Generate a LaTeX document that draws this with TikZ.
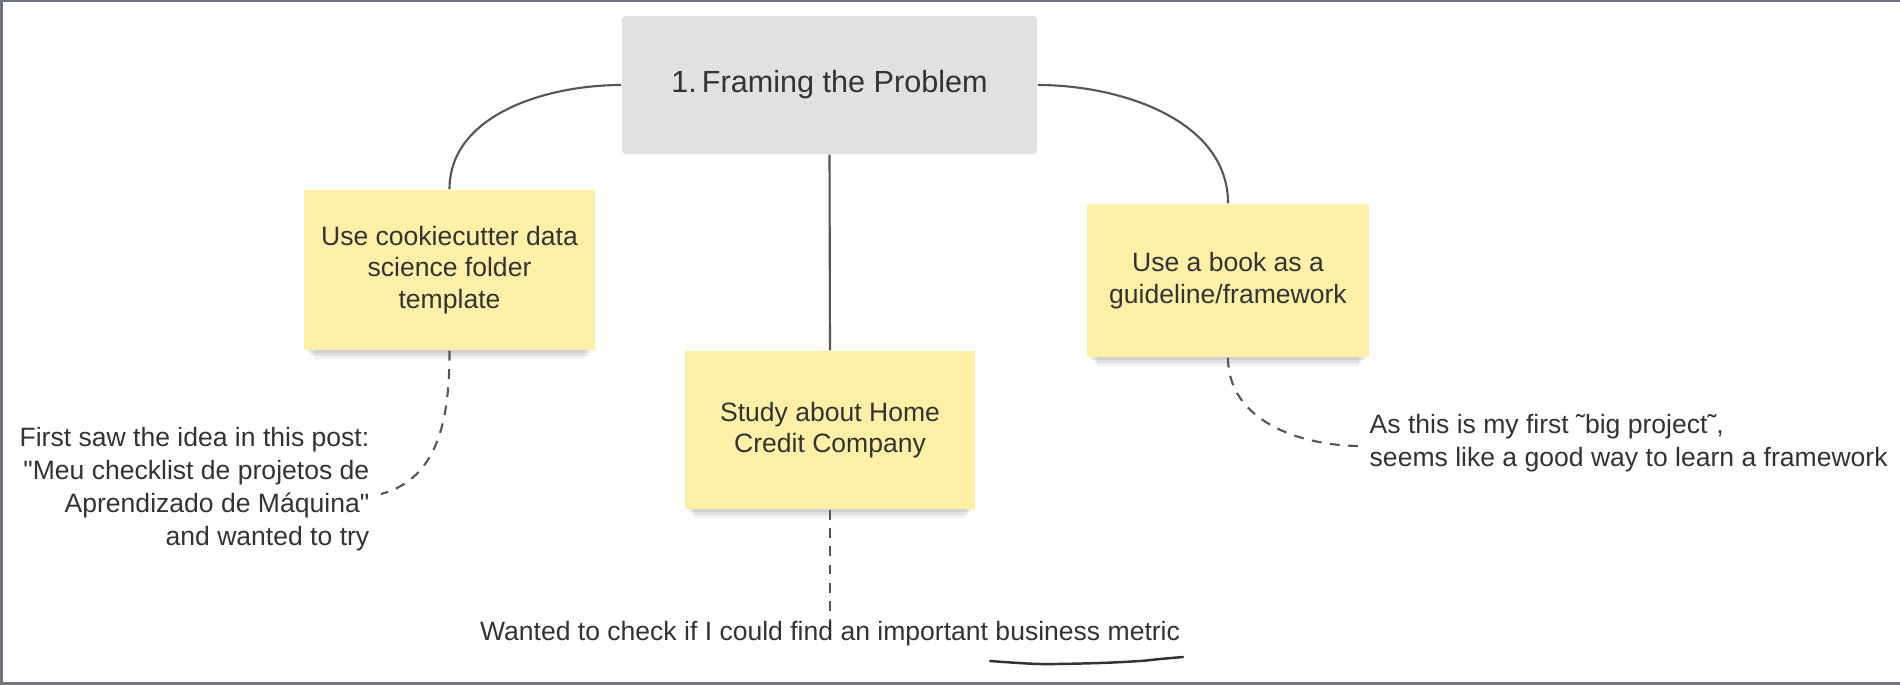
\documentclass[tikz,border=0pt]{standalone}
\usepackage{fontspec}
\setmainfont{Liberation Sans}[Ligatures=TeXOff]
\usetikzlibrary{shadows}

\definecolor{stickyfill}{HTML}{FFF0A8}
\definecolor{titlefill}{HTML}{E1E1E1}
\definecolor{inkgray}{HTML}{333333}
\definecolor{linegray}{HTML}{555555}
\definecolor{framegray}{HTML}{6F7482}

\tikzset{
    titlebox/.style={fill=titlefill, rounded corners=1.2pt, minimum width=4.15cm,
        minimum height=1.38cm, text=inkgray, font=\fontsize{8.7pt}{10.4pt}\selectfont},
    sticky/.style={fill=stickyfill, align=center, text=inkgray,
        font=\fontsize{7.55pt}{9pt}\selectfont,
        general shadow={fill=black, opacity=0.07, shadow yshift=-1.5pt, shadow scale=0.97},
        general shadow={fill=black, opacity=0.07, shadow yshift=-3pt, shadow scale=0.95},
        general shadow={fill=black, opacity=0.05, shadow yshift=-4.5pt, shadow scale=0.93}},
    note/.style={text=inkgray, font=\fontsize{7.55pt}{9.4pt}\selectfont, inner sep=0pt},
    branch/.style={draw=linegray, line width=0.6pt},
    hint/.style={draw=linegray, line width=0.6pt, dash pattern=on 2.8pt off 2.4pt}
}

\begin{document}
\begin{tikzpicture}[x=0.01cm, y=-0.01cm]

    % --- Page and frame ---
    \useasboundingbox (0,0) rectangle (1900,685);
    \fill[white] (0,0) rectangle (1900,685);
    \draw[framegray, line width=0.8pt] (1900,0.5) -- (1.2,0.5) -- (1.2,683.5) -- (1900,683.5);

    % --- Central topic ---
    \node[titlebox] (frame) at (829.5,85) {1.\,Framing the Problem};

    % --- Sticky notes ---
    % Left sticky: folder template
    \node[sticky, minimum width=2.91cm, minimum height=1.6cm] (cookie) at (449.5,270)
        {Use cookiecutter data\\science folder\\template};

    % Middle sticky: company study
    \node[sticky, minimum width=2.9cm, minimum height=1.58cm] (study) at (830,430)
        {Study about Home\\Credit Company};

    % Right sticky: book as guide
    \node[sticky, minimum width=2.82cm, minimum height=1.53cm] (book) at (1228,280.5)
        {Use a book as a\\guideline/framework};

    % --- Branches from the topic ---
    \draw[branch] (frame.west) to[out=180, in=90, looseness=0.95] (cookie.north);
    \draw[branch] (frame.south) -- (study.north);
    \draw[branch] (frame.east) to[out=0, in=90, looseness=0.95] (book.north);

    % --- Side notes ---
    \node[note, anchor=east, align=right] (post) at (370,489)
        {First saw the idea in this post:\\"Meu checklist de projetos de\\Aprendizado de Máquina"\\and wanted to try};
    \node[note, anchor=west, align=left] (learn) at (1369,443.5)
        {As this is my first ˜big project˜,\\seems like a good way to learn a framework};
    \node[note] (metric) at (830,634)
        {Wanted to check if I could find an important business metric};

    % --- Dashed hints ---
    \coordinate (postend) at (381,494);
    \coordinate (learnend) at (1361,446);
    \draw[hint] (cookie.south) to[out=-90, in=15] (postend);
    \draw[hint] (study.south) -- (metric.north);
    \draw[hint] (book.south) to[out=-90, in=180] (learnend);

    % hand-drawn underline below "business metric"
    \draw[inkgray, line width=0.7pt, line cap=round]
        plot[smooth] coordinates {(990,661) (1040,664) (1100,663) (1140,661) (1160,659) (1183,657)};

\end{tikzpicture}
\end{document}
